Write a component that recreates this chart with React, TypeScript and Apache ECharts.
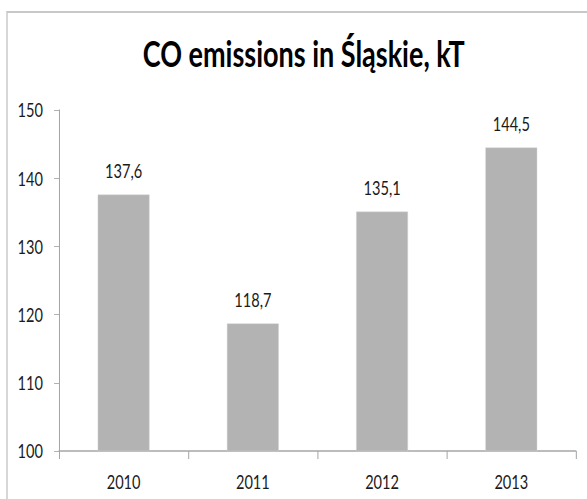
import React, { useEffect, useRef } from "react";
import * as echarts from "echarts";

const categories = ["2010", "2011", "2012", "2013"];
const values = [137.6, 118.7, 135.1, 144.5];
const yTicks = { min: 100, max: 150, interval: 10 };
const titleText = "CO emissions in Śląskie, kT";

// The reference chart is horizontally compressed; render wider and squeeze.
const SX = 0.73;
const W = 587 / SX;
const H = 499;
const FONT = "Lato, 'Noto Sans', sans-serif";

export default function App() {
  const ref = useRef<HTMLDivElement>(null);
  useEffect(() => {
    if (!ref.current) return;
    const chart = echarts.init(ref.current, null, { renderer: "svg" });
    chart.setOption({
      animation: false,
      backgroundColor: "#ffffff",
      textStyle: { fontFamily: FONT },
      title: {
        text: titleText,
        left: 300 / SX,
        textAlign: "center",
        top: 29,
        textStyle: { fontFamily: FONT, fontSize: 37, fontWeight: "bold", color: "#000" },
      },
      graphic: [
        {
          type: "rect",
          shape: { x: 7 / SX, y: 12, width: 1000, height: 600 },
          style: { fill: "none", stroke: "#c8c8c8", lineWidth: 2 },
          silent: true,
        },
      ],
      grid: { left: 59 / SX, right: 11 / SX, top: 110, bottom: 48 },
      xAxis: {
        type: "category",
        data: categories,
        boundaryGap: true,
        axisLine: { show: true, lineStyle: { color: "#a6a6a6", width: 1.5 } },
        axisTick: { show: true, alignWithLabel: false, length: 8, lineStyle: { color: "#a6a6a6", width: 1.4 } },
        axisLabel: { fontSize: 20, color: "#1a1a1a", margin: 21, fontFamily: FONT },
      },
      yAxis: {
        type: "value",
        min: yTicks.min,
        max: yTicks.max,
        interval: yTicks.interval,
        axisLine: { show: true, lineStyle: { color: "#a6a6a6", width: 1.4 } },
        axisTick: { show: true, inside: false, length: 5 / SX, lineStyle: { color: "#a6a6a6" } },
        splitLine: { show: false },
        axisLabel: { fontSize: 20, color: "#1a1a1a", margin: 16 / SX, fontFamily: FONT },
      },
      series: [
        {
          type: "bar",
          data: values,
          barWidth: "40%",
          itemStyle: { color: "#b3b3b3", borderColor: "#d0d0d0", borderWidth: 0.5 },
          label: {
            show: true,
            position: "top",
            distance: 14,
            fontSize: 20,
            color: "#1a1a1a",
            fontFamily: FONT,
            formatter: (p: any) => p.value.toFixed(1).replace(".", ","),
          },
        },
      ],
    });
    return () => chart.dispose();
  }, []);
  return (
    <div style={{ position: "fixed", left: 0, top: 0, width: 587, height: H, overflow: "hidden" }}>
      <div
        ref={ref}
        style={{ width: W, height: H, transform: `scaleX(${SX})`, transformOrigin: "0 0" }}
      />
    </div>
  );
}
